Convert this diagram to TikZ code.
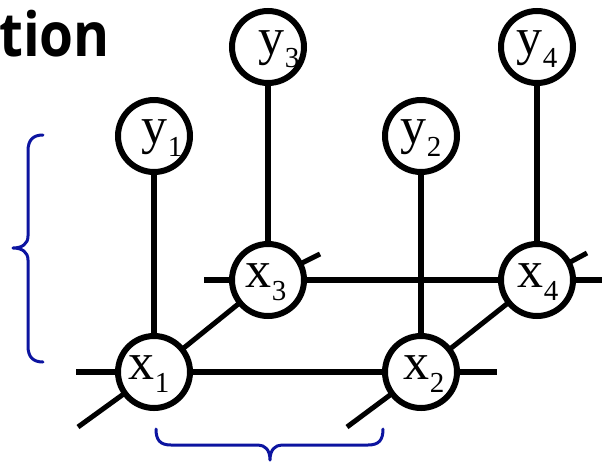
\documentclass[tikz,border=0pt]{standalone}
\usepackage{fontspec}
\newfontfamily\labfont{Liberation Serif}
\newfontfamily\headfont{Open Sans}
\usetikzlibrary{backgrounds}
\definecolor{bracecol}{RGB}{12,20,160}
% #1: twice the horizontal offset of the label, #2: letter, #3: index
\newcommand{\varlab}[3]{\makebox[0pt]{\hspace*{#1}\raisebox{-7.5pt}{\labfont\fontsize{52}{52}\selectfont #2\raisebox{-13pt}{\fontsize{29}{29}\selectfont #3}}}}
\tikzset{
  var/.style={circle, draw, fill=white, line width=6pt, minimum size=72pt,
    inner sep=0pt, text height=0pt, text depth=0pt},
  link/.style={line width=6.5pt},
  diag/.style={line width=5pt},
  bracepath/.style={draw=bracecol, line width=3pt, line cap=round, line join=round}
}
\begin{document}
\begin{tikzpicture}[x=1pt, y=-1pt]
  \useasboundingbox (0,0) rectangle (602,464);
  \clip (0,0) rectangle (602,464);

  % heading fragment
  \node[anchor=base west, inner sep=0pt] (head) at (-1,56) {\scalebox{0.9}[1]{\headfont\bfseries\fontsize{61}{61}\selectfont tion}};

  % hidden states
  \node[var] (x1) at (154,372) {\varlab{-10pt}{x}{1}};
  \node[var] (x2) at (421,372) {\varlab{6pt}{x}{2}};
  \node[var] (x3) at (268,280) {\varlab{-4pt}{x}{3}};
  \node[var] (x4) at (537,280) {\varlab{2pt}{x}{4}};
  % observations
  \node[var] (y1) at (154,136) {\varlab{16pt}{y}{1}};
  \node[var] (y2) at (421,136) {\varlab{0pt}{y}{2}};
  \node[var] (y3) at (268,47) {\varlab{22pt}{y}{3}};
  \node[var] (y4) at (537,47) {\varlab{0pt}{y}{4}};

  % free ends of the lattice lines
  \coordinate (a1) at (76,372);
  \coordinate (a2) at (497,372);
  \coordinate (b1) at (204,280);
  \coordinate (b2) at (604,280);
  \coordinate (c1) at (78,427);
  \coordinate (c2) at (320,254);
  \coordinate (d1) at (347,427);
  \coordinate (d2) at (587,253);

  \begin{scope}[on background layer]
    \draw[link] (a1) -- (x1.center) -- (x2.center) -- (a2);
    \draw[link] (b1) -- (x3.center) -- (x4.center) -- (b2);
    \draw[link] (y1.center) -- (x1.center);
    \draw[link] (y2.center) -- (x2.center);
    \draw[link] (y3.center) -- (x3.center);
    \draw[link] (y4.center) -- (x4.center);
    \draw[diag] (c1) -- (x1.center) -- (x3.center) -- (c2);
    \draw[diag] (d1) -- (x2.center) -- (x4.center) -- (d2);
  \end{scope}

  % braces
  \draw[bracepath] (43,135) .. controls (33,135) and (28,140) .. (28,151)
    -- (28,236) .. controls (28,244) and (22,248) .. (13,248)
    .. controls (22,248) and (28,252) .. (28,260)
    -- (28,346) .. controls (28,357) and (33,362) .. (43,362);
  \draw[bracepath] (156,429) .. controls (156,440) and (160,445) .. (171,445)
    -- (258,445) .. controls (265,445) and (270,450) .. (270,460)
    .. controls (270,450) and (275,445) .. (282,445)
    -- (368,445) .. controls (379,445) and (383,440) .. (383,429);
\end{tikzpicture}
\end{document}
